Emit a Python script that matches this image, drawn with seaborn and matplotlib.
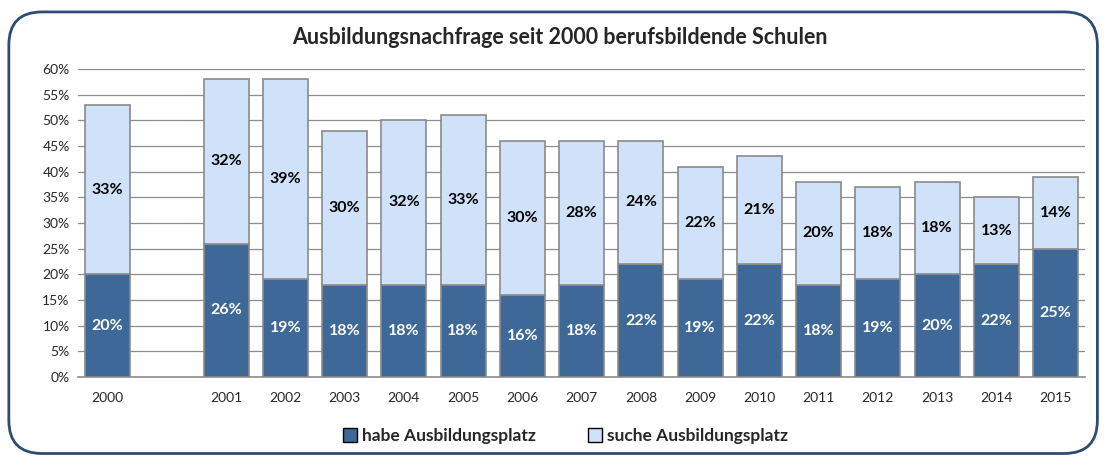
import numpy as np
import pandas as pd
import seaborn as sns
import matplotlib.pyplot as plt
from matplotlib.patches import FancyBboxPatch, Patch

# data
years = ['2000', '2001', '2002', '2003', '2004', '2005', '2006', '2007',
         '2008', '2009', '2010', '2011', '2012', '2013', '2014', '2015']
habe = [20, 26, 19, 18, 18, 18, 16, 18, 22, 19, 22, 18, 19, 20, 22, 25]
suche = [33, 32, 39, 30, 32, 33, 30, 28, 24, 22, 21, 20, 18, 18, 13, 14]
yticks = [0, 5, 10, 15, 20, 25, 30, 35, 40, 45, 50, 55, 60]

# empty slot between 2000 and 2001 like in the original
order = ['2000', ' '] + years[1:]

df = pd.DataFrame({'year': years, 'habe': habe, 'suche': suche})

dark = '#3d6898'
light = '#cfe2f9'
edge = '#8a8a8a'
font = 'Lato'

sns.set_style('white')
plt.rcParams['font.family'] = [font, 'DejaVu Sans']

fig = plt.figure(figsize=(11.04, 4.59), dpi=100)
ax = fig.add_axes([0.0707, 0.1786, 0.9123, 0.6711])

sns.barplot(data=df, x='year', y='habe', order=order, color=dark,
            edgecolor=edge, linewidth=1.2, width=0.76, saturation=1, ax=ax, zorder=3)
sns.barplot(data=df, x='year', y='suche', order=order, color=light,
            bottom=df['habe'].values, edgecolor=edge, linewidth=1.2, width=0.76,
            saturation=1, ax=ax, zorder=3)

# value labels in the middle of each segment
for i, yr in enumerate(years):
    pos = order.index(yr)
    h = habe[i]
    s = suche[i]
    ax.text(pos, h / 2, f'{h}%', ha='center', va='center', color='white',
            fontsize=11.5, fontweight='bold', zorder=5)
    ax.text(pos, h + s / 2, f'{s}%', ha='center', va='center', color='black',
            fontsize=11.5, fontweight='bold', zorder=5)

ax.set_ylim(0, 60)
ax.set_xlim(-0.5, len(order) - 0.5)
ax.set_yticks(yticks)
ax.set_yticklabels([f'{t}%' for t in yticks], fontsize=10)
ax.tick_params(axis='x', labelsize=10, pad=11, length=0)
ax.tick_params(axis='y', length=0, pad=6)
ax.yaxis.grid(True, color='#8c8c8c', linewidth=0.9, zorder=0)
ax.set_axisbelow(True)
ax.set_xlabel('')
ax.set_ylabel('')
for side in ['top', 'right', 'left']:
    ax.spines[side].set_visible(False)
ax.spines['bottom'].set_color('#8c8c8c')
ax.spines['bottom'].set_linewidth(1.2)

fig.text(0.507, 0.918, 'Ausbildungsnachfrage seit 2000 berufsbildende Schulen',
         ha='center', va='center', fontsize=15.5, fontweight='bold')

handles = [Patch(facecolor=dark, edgecolor='black', linewidth=1),
           Patch(facecolor=light, edgecolor='black', linewidth=1)]
leg = fig.legend(handles, ['habe Ausbildungsplatz', 'suche Ausbildungsplatz'],
                 loc='center', bbox_to_anchor=(0.512, 0.05), ncol=2, frameon=False,
                 handlelength=0.8, handleheight=0.8, handletextpad=0.3,
                 columnspacing=3.0, prop={'weight': 'bold', 'size': 12.5})

frame = FancyBboxPatch((0.008, 0.012), 0.986, 0.962, transform=fig.transFigure,
                       boxstyle='round,pad=0,rounding_size=0.03',
                       facecolor='none', edgecolor='#2e4c72', linewidth=2,
                       mutation_aspect=1104 / 459)
fig.patches.append(frame)

fig.savefig('out.png', dpi=100)
